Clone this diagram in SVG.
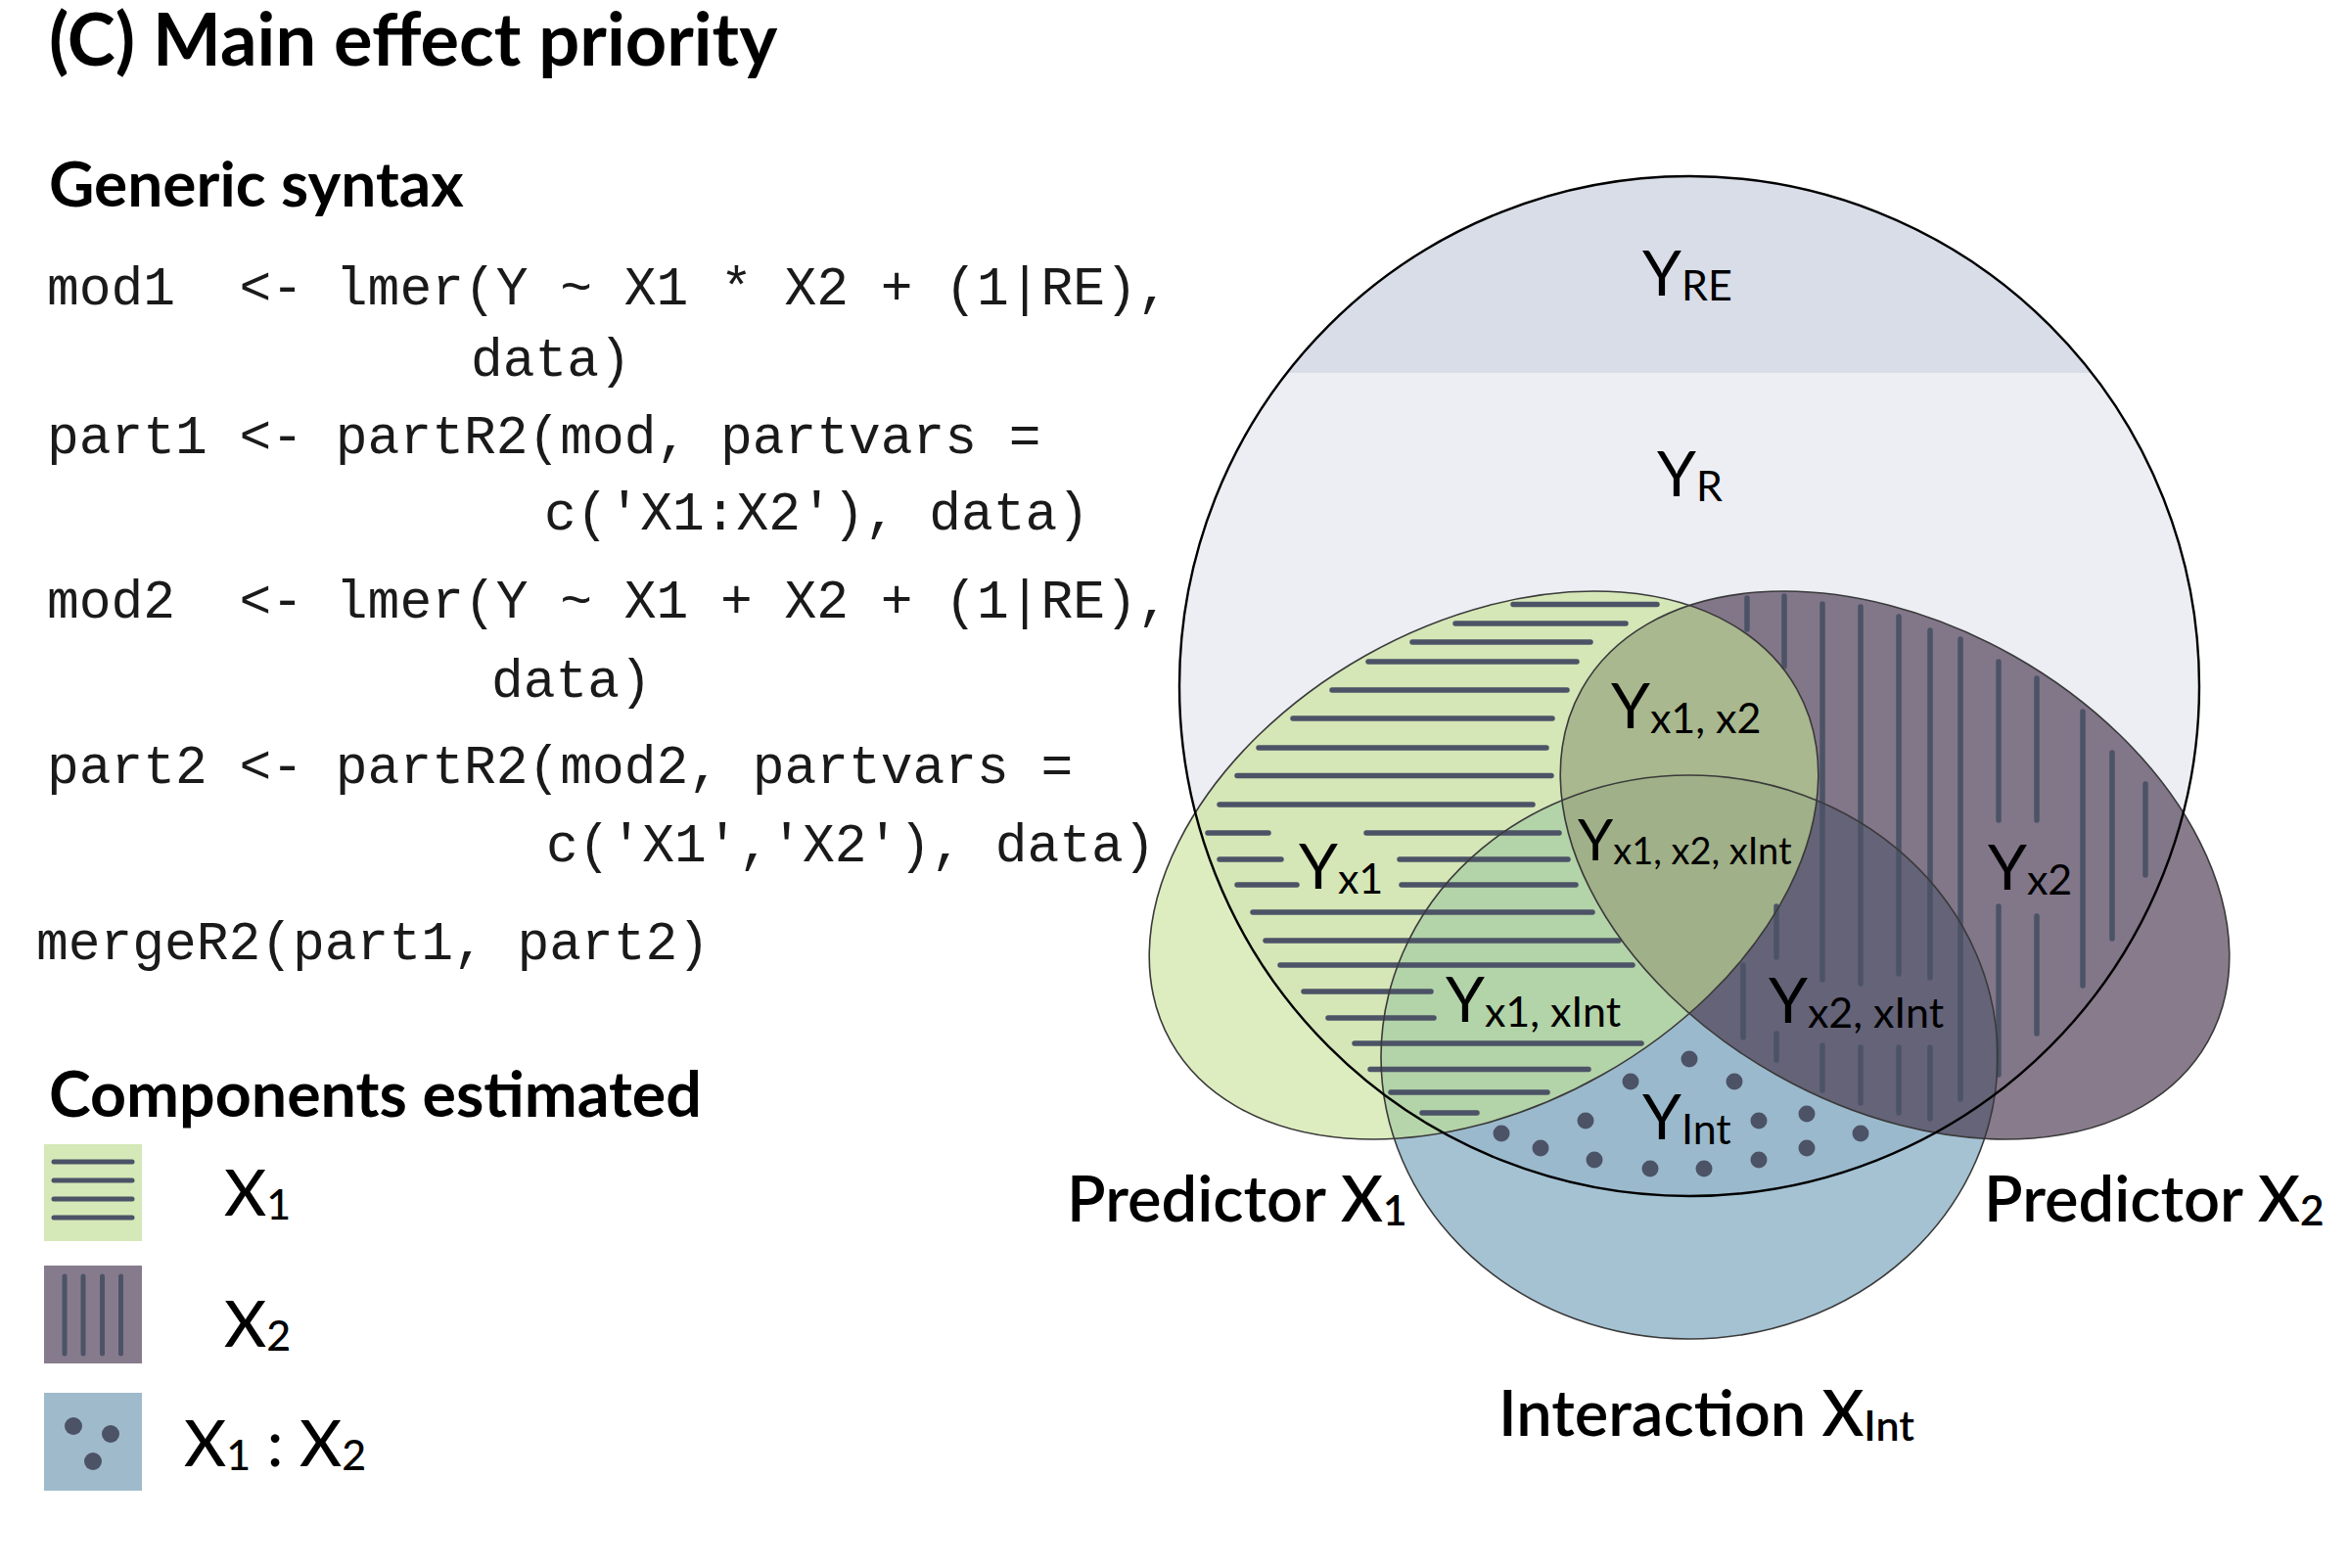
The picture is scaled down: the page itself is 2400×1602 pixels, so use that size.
<svg xmlns="http://www.w3.org/2000/svg" xmlns:xlink="http://www.w3.org/1999/xlink" width="2400" height="1602" viewBox="0 0 2400 1602">
<style>
.h{font-family:Lato,'Noto Sans',sans-serif;font-weight:700;fill:#000}
.pl{font-family:Lato,'Noto Sans',sans-serif;font-weight:600;font-size:65px;fill:#000}
.code{font-family:'Liberation Mono',monospace;font-size:54.6px;fill:#1a1a1a;white-space:pre}
.lbl{font-family:Lato,'Noto Sans',sans-serif;font-size:64px;fill:#000}
.leg{font-family:Lato,'Noto Sans',sans-serif;font-weight:500;font-size:66px;fill:#000}
.sub{font-size:43px}
.st{stroke:#4c5366;stroke-width:5.5;stroke-linecap:round;fill:none}
.dot{fill:#4c5366}
.ol{fill:none;stroke:#3a3a3a;stroke-width:1.6}
</style>
<defs>
<ellipse id="shG" cx="1516" cy="884" rx="367" ry="246" transform="rotate(-29.4 1516 884)"/>
<ellipse id="shP" cx="1936" cy="884" rx="367" ry="246" transform="rotate(29.4 1936 884)"/>
<ellipse id="shB" cx="1726" cy="1080" rx="315" ry="288"/>
<circle id="shC" cx="1726" cy="701" r="521"/>
<clipPath id="clipG"><use xlink:href="#shG"/></clipPath>
<clipPath id="clipP"><use xlink:href="#shP"/></clipPath>
<clipPath id="clipC"><use xlink:href="#shC"/></clipPath>
</defs>
<rect width="2400" height="1602" fill="#fff"/>

<g id="title"><text class="h" x="50" y="67" style="font-size:74px">(C) Main effect priority</text></g>

<g id="syntax">
<text class="h" x="50" y="211" style="font-size:64px">Generic syntax</text>
<text class="code" x="48" y="311" xml:space="preserve">mod1  &lt;- lmer(Y ~ X1 * X2 + (1|RE),</text>
<text class="code" x="481" y="384">data)</text>
<text class="code" x="48" y="463" xml:space="preserve">part1 &lt;- partR2(mod, partvars =</text>
<text class="code" x="556" y="541" xml:space="preserve">c('X1:X2'), data)</text>
<text class="code" x="48" y="631" xml:space="preserve">mod2  &lt;- lmer(Y ~ X1 + X2 + (1|RE),</text>
<text class="code" x="502" y="712">data)</text>
<text class="code" x="48" y="800" xml:space="preserve">part2 &lt;- partR2(mod2, partvars =</text>
<text class="code" x="558" y="880" xml:space="preserve">c('X1','X2'), data)</text>
<text class="code" x="37" y="980" xml:space="preserve">mergeR2(part1, part2)</text>
</g>

<g id="legend">
<text class="h" x="50" y="1141" style="font-size:64.5px">Components estimated</text>
<g id="legend-x1">
<rect x="45" y="1169" width="100" height="99" fill="#d5e8b8"/>
<path class="st" d="M55 1187H135M55 1206H135M55 1225H135M55 1244H135" style="stroke-width:5"/>
<text class="leg" x="229" y="1242">X<tspan class="sub" dy="4">1</tspan></text>
</g>
<g id="legend-x2">
<rect x="45" y="1293" width="100" height="100" fill="#867b8d"/>
<path class="st" d="M66 1304V1383M85 1304V1383M104.5 1304V1383M123.5 1304V1383" style="stroke-width:5"/>
<text class="leg" x="229" y="1376">X<tspan class="sub" dy="4">2</tspan></text>
</g>
<g id="legend-int">
<rect x="45" y="1423" width="100" height="100" fill="#9fbacb"/>
<circle class="dot" cx="75" cy="1457" r="9"/><circle class="dot" cx="113" cy="1465" r="9"/><circle class="dot" cx="95" cy="1493" r="9"/>
<text class="leg" x="188" y="1498">X<tspan class="sub" dy="4">1</tspan><tspan dy="-4"> : X</tspan><tspan class="sub" dy="4">2</tspan></text>
</g>
</g>

<g id="venn">
<g id="outside">
<use xlink:href="#shB" fill="#a5c2d3"/>
<use xlink:href="#shG" fill="#ddedc0"/>
<use xlink:href="#shP" fill="#887b8b"/>
<g clip-path="url(#clipG)"><use xlink:href="#shB" fill="#b6d5aa"/></g>
<g clip-path="url(#clipP)"><use xlink:href="#shB" fill="#666479"/></g>
</g>
<g id="inside" clip-path="url(#clipC)">
<rect x="1200" y="170" width="1060" height="1060" fill="#eceef3"/>
<rect x="1200" y="170" width="1060" height="211" fill="#d8dde8"/>
<use xlink:href="#shB" fill="#9bb9cc"/>
<use xlink:href="#shG" fill="#d5e6b7"/>
<use xlink:href="#shP" fill="#827689"/>
<g clip-path="url(#clipG)"><use xlink:href="#shB" fill="#b3d3a8"/></g>
<g clip-path="url(#clipP)"><use xlink:href="#shB" fill="#646378"/></g>
<g clip-path="url(#clipG)"><use xlink:href="#shP" fill="#a9b88e"/></g>
<g clip-path="url(#clipG)"><g clip-path="url(#clipP)"><use xlink:href="#shB" fill="#a0b088"/></g></g>
</g>
<g id="stripes-x1" class="st">
<path d="M1546 617.5H1693M1487 637H1661M1443 656H1625M1398 676H1611M1361 705H1601M1321 734H1586M1286 764H1580M1264 792.5H1585M1246 822H1566M1234 851H1296M1396 851H1593M1246 878H1309M1430 878H1602M1264 904H1325M1432 904H1610M1280 932H1627M1293 961H1654M1308 986H1668M1332 1013H1462M1357 1040H1465M1384 1066H1677M1400 1092.5H1623M1421 1116H1581M1453 1137H1509"/>
</g>
<g id="stripes-x2" class="st">
<path d="M1785 611V643M1823 609V681M1862 617V1001M1901 620V1005M1940 630V995M1972 644V999M2003 653V1123M2042 676V838M2042 926V1098M2081 693V838M2081 936V1056M2128 727V1007M2158 769V959M2192 801V894M1781 986V1060M1815 926V978M1815 1056V1083M1862 1068V1114M1901 1070V1127M1940 1070V1137M1972 1070V1143"/>
</g>
<g id="dots-int">
<circle class="dot" cx="1726" cy="1082" r="8.5"/><circle class="dot" cx="1666" cy="1105" r="8.5"/><circle class="dot" cx="1772" cy="1105" r="8.5"/><circle class="dot" cx="1620" cy="1145" r="8.5"/><circle class="dot" cx="1797" cy="1145" r="8.5"/><circle class="dot" cx="1846" cy="1138" r="8.5"/><circle class="dot" cx="1534" cy="1158" r="8.5"/><circle class="dot" cx="1901" cy="1158" r="8.5"/><circle class="dot" cx="1574" cy="1173" r="8.5"/><circle class="dot" cx="1846" cy="1173" r="8.5"/><circle class="dot" cx="1629" cy="1185" r="8.5"/><circle class="dot" cx="1797" cy="1185" r="8.5"/><circle class="dot" cx="1686" cy="1194" r="8.5"/><circle class="dot" cx="1741" cy="1194" r="8.5"/>
</g>
<g id="outlines">
<use xlink:href="#shG" class="ol"/>
<use xlink:href="#shP" class="ol"/>
<use xlink:href="#shB" class="ol"/>
<use xlink:href="#shC" fill="none" stroke="#000" stroke-width="2.4"/>
</g>
<g id="region-labels">
<text class="lbl" x="1678" y="302">Y<tspan class="sub" dy="5">RE</tspan></text>
<text class="lbl" x="1693" y="507">Y<tspan class="sub" dy="5">R</tspan></text>
<text class="lbl" x="1646" y="744">Y<tspan class="sub" dy="5">x1, x2</tspan></text>
<text class="lbl" x="1612" y="879" style="font-size:58px">Y<tspan dy="4" style="font-size:38px">x1, x2, xInt</tspan></text>
<text class="lbl" x="1327" y="908">Y<tspan class="sub" dy="5">x1</tspan></text>
<text class="lbl" x="2031" y="909">Y<tspan class="sub" dy="5">x2</tspan></text>
<text class="lbl" x="1477" y="1044">Y<tspan class="sub" dy="5">x1, xInt</tspan></text>
<text class="lbl" x="1807" y="1045">Y<tspan class="sub" dy="5">x2, xInt</tspan></text>
<text class="lbl" x="1678" y="1164">Y<tspan class="sub" dy="5">Int</tspan></text>
</g>
</g>
<g id="set-labels">
<g id="label-x1"><text class="pl" x="1090" y="1248">Predictor X<tspan class="sub" dy="4">1</tspan></text></g>
<g id="label-x2"><text class="pl" x="2027" y="1248">Predictor X<tspan class="sub" dy="4">2</tspan></text></g>
<g id="label-int"><text class="pl" x="1531" y="1467">Interaction X<tspan class="sub" dy="5">Int</tspan></text></g>
</g>
<g id="connectors"/>
</svg>
